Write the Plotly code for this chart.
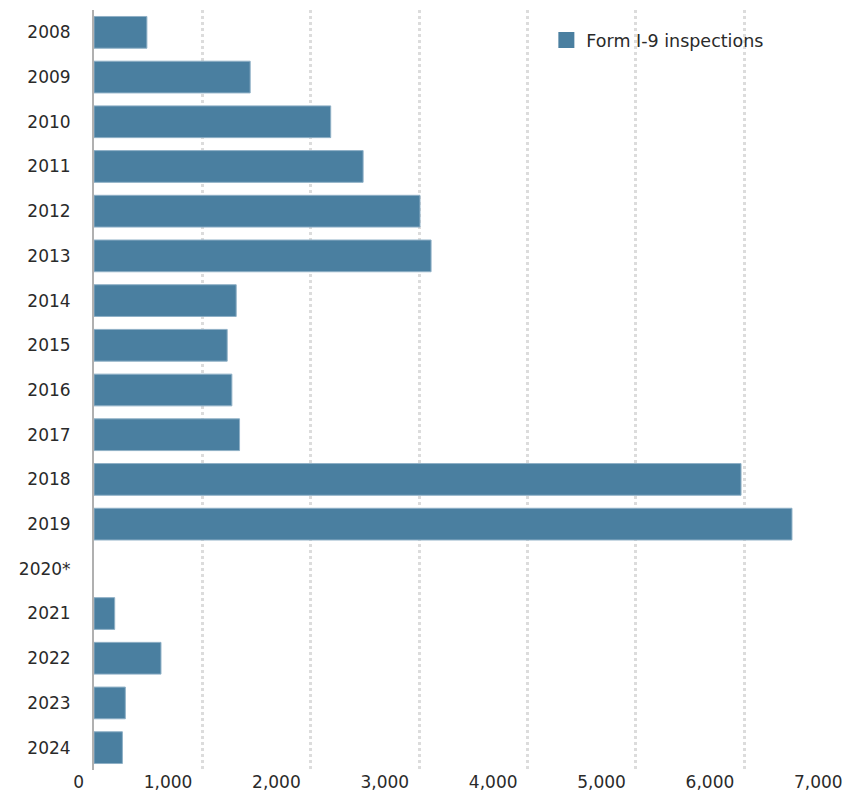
import plotly.graph_objects as go

years = ["2008", "2009", "2010", "2011", "2012", "2013", "2014", "2015", "2016",
         "2017", "2018", "2019", "2020*", "2021", "2022", "2023", "2024"]
inspections = [488, 1441, 2184, 2483, 3008, 3110, 1312, 1229, 1272,
               1343, 5970, 6440, None, 191, 618, 289, 262]
x_ticks = [0, 1000, 2000, 3000, 4000, 5000, 6000, 7000]
x_tick_labels = ["0", "1,000", "2,000", "3,000", "4,000", "5,000", "6,000", "7,000"]

font = "'DejaVu Sans', sans-serif"
bar_color = "#4a7fa0"
text_color = "#2a2a2a"

fig = go.Figure()
fig.add_trace(go.Bar(
    y=years, x=inspections, orientation="h",
    name="Form I-9 inspections", showlegend=False,
    marker=dict(color=bar_color, line=dict(color="#8fb0c6", width=1)),
))
# legend entry with a larger square swatch
fig.add_trace(go.Scatter(
    x=[None], y=[None], mode="markers", name="Form I-9 inspections",
    marker=dict(symbol="square", size=18, color=bar_color),
))

fig.update_layout(
    width=845, height=802,
    margin=dict(l=86, r=0, t=2, b=40, autoexpand=False),
    plot_bgcolor="white", paper_bgcolor="white",
    bargap=0.29,
    font=dict(family=font, size=17, color=text_color),
    showlegend=True,
    legend=dict(x=0.596, y=0.984, xanchor="left", yanchor="top",
                font=dict(size=17.5, color=text_color), bgcolor="rgba(0,0,0,0)"),
    xaxis=dict(
        range=[0, 7003], tickvals=x_ticks, ticktext=x_tick_labels,
        showgrid=True, gridcolor="#dcdcdc", griddash="dot", gridwidth=3,
        zeroline=False, showline=False, ticks="", automargin=False,
        ticklabelposition="outside left", ticklabeloverflow="allow",
        ticklabelshift=-10,
        tickfont=dict(size=17, color=text_color),
    ),
    yaxis=dict(
        autorange="reversed", showgrid=False, zeroline=False,
        showline=True, linecolor="#b0b0b0", linewidth=2,
        ticks="", ticklabelstandoff=18, automargin=False,
        tickfont=dict(size=17, color=text_color),
    ),
)

fig.write_html("out.html")
